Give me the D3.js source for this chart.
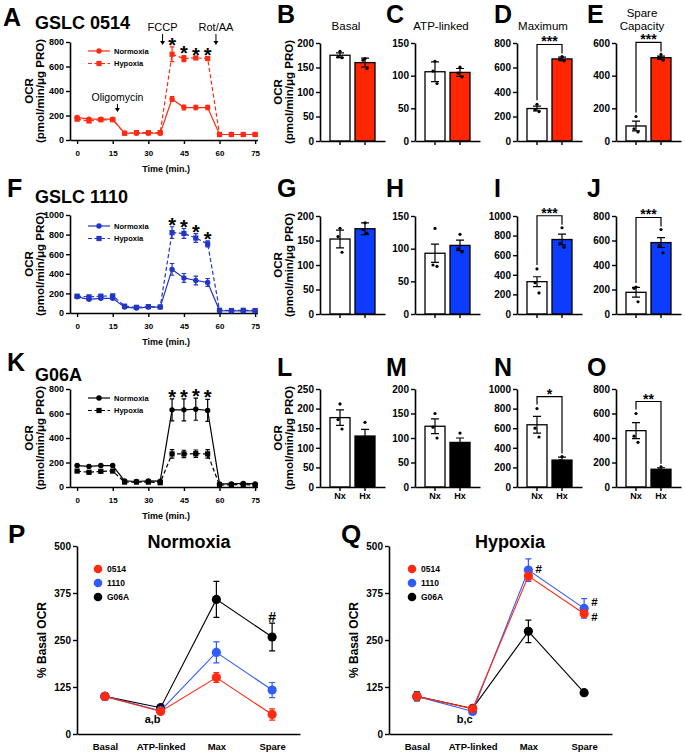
<!DOCTYPE html>
<html>
<head>
<meta charset="utf-8">
<script src="https://cdn.jsdelivr.net/npm/d3@7"></script>
<style>
  body { margin: 0; background: #fff; }
  svg { display: block; font-family: "Liberation Sans", Arial, Helvetica, sans-serif; }
</style>
</head>
<body>
<svg id="fig" width="685" height="753"></svg>
<script>
const FONT = '"Liberation Sans", Arial, Helvetica, sans-serif';

// ---- time courses (OCR, pmol/min/ug protein) ----
const times = [0, 5, 10, 15, 20, 25, 30, 35, 40, 45, 50, 55, 60, 65, 70, 75];
const timeTicks = [0, 15, 30, 45, 60, 75];
const injectionLabels = ["Oligomycin", "FCCP", "Rot/AA"];
const injectionTimes = [17, 36, 58.5];
const starIdx = [8, 9, 10, 11];

const ocr0514Nx = [185, 170, 170, 170, 55, 55, 55, 55, 335, 265, 265, 265, 45, 45, 45, 45];
const err0514Nx = [10, 8, 8, 8, 6, 6, 6, 6, 20, 20, 18, 18, 4, 4, 4, 4];
const ocr0514Hx = [170, 155, 165, 165, 55, 60, 60, 60, 700, 665, 670, 665, 45, 45, 45, 45];
const err0514Hx = [8, 12, 8, 8, 6, 10, 10, 10, 60, 25, 10, 10, 4, 4, 4, 4];

const ocr1110Nx = [165, 140, 150, 150, 60, 50, 60, 60, 445, 358, 332, 312, 25, 22, 22, 22];
const err1110Nx = [10, 12, 10, 10, 8, 8, 8, 8, 60, 45, 45, 40, 5, 5, 5, 5];
const ocr1110Hx = [172, 165, 172, 175, 70, 58, 65, 62, 820, 812, 765, 705, 28, 25, 28, 25];
const err1110Hx = [10, 10, 12, 12, 8, 8, 8, 8, 60, 50, 45, 30, 5, 5, 5, 5];

const ocrG06ANx = [175, 168, 175, 175, 50, 45, 50, 48, 630, 630, 635, 625, 25, 25, 30, 25];
const errG06ANx = [8, 8, 8, 8, 5, 5, 5, 5, 90, 90, 90, 90, 5, 5, 5, 5];
const ocrG06AHx = [130, 120, 128, 130, 40, 40, 40, 35, 270, 270, 272, 270, 15, 20, 20, 15];
const errG06AHx = [8, 8, 8, 8, 5, 5, 5, 5, 35, 30, 30, 35, 5, 5, 5, 5];

// ---- bar panels ----
const metrics = ["Basal", "ATP-linked", "Maximum", "Spare Capacity"];
const groups = ["Nx", "Hx"];

const bar0514Mean = [[175, 160], [106, 105], [265, 670], [92, 510]];
const bar0514Sem = [[5, 9], [15, 6], [20, 15], [30, 10]];
const bar0514Dots = [
  [[183, 172, 170], [168, 165, 148]],
  [[122, 107, 88], [113, 104, 98]],
  [[300, 255, 240], [690, 665, 655]],
  [[150, 75, 55], [530, 510, 495]],
];
const bar0514Sig = ["", "", "***", "***"];
const bar0514Max = [200, 150, 800, 600];

const bar1110Mean = [[153, 174], [93, 105], [330, 760], [177, 583]];
const bar1110Sem = [[18, 12], [14, 8], [50, 55], [40, 40]];
const bar1110Dots = [
  [[175, 158, 126], [186, 172, 165]],
  [[131, 75, 73], [122, 100, 95]],
  [[460, 320, 215], [880, 720, 680]],
  [[220, 210, 100], [690, 560, 500]],
];
const bar1110Sig = ["", "", "***", "***"];
const bar1110Max = [200, 150, 1000, 800];

const barG06AMean = [[177, 130], [124, 91], [635, 275], [460, 145]];
const barG06ASem = [[20, 17], [15, 9], [85, 30], [65, 12]];
const barG06ADots = [
  [[212, 172, 148], [165, 120, 105]],
  [[150, 122, 100], [110, 85, 80]],
  [[800, 600, 510], [310, 270, 245]],
  [[600, 415, 365], [165, 140, 130]],
];
const barG06ASig = ["", "", "*", "**"];
const barG06AMax = [250, 200, 1000, 800];

const barTickStep = [50, 50, 200, 200];

// ---- % basal OCR ----
const pctCategories = ["Basal", "ATP-linked", "Max", "Spare"];
const cellLines = ["0514", "1110", "G06A"];
const pctTicks = [0, 125, 250, 375, 500];

const nxPct0514 = [100, 60, 150, 52];
const nxErr0514 = [6, 5, 13, 15];
const nxPct1110 = [100, 62, 217, 117];
const nxErr1110 = [10, 5, 28, 20];
const nxPctG06A = [100, 70, 358, 258];
const nxErrG06A = [5, 5, 48, 37];

const hxPct0514 = [100, 67, 420, 320];
const hxErr0514 = [8, 5, 10, 8];
const hxPct1110 = [100, 60, 436, 334];
const hxErr1110 = [10, 5, 30, 26];
const hxPctG06A = [100, 68, 273, 110];
const hxErrG06A = [12, 5, 30, 5];

// ------------------------------------------------------------------
const svg = d3.select("#fig");
svg.append("rect").attr("width", 685).attr("height", 753).attr("fill", "#fff");

const intFmt = d3.format("d");

function styleAxis(g, size) {
  g.attr("font-family", FONT);
  g.select(".domain").attr("stroke-width", 1.6);
  g.selectAll(".tick line").attr("stroke-width", 1.4);
  g.selectAll(".tick text")
    .attr("font-size", size)
    .attr("font-weight", "bold")
    .attr("fill", "#000");
}

function boldText(g, x, y, size, str, anchor = "start") {
  return g
    .append("text")
    .attr("x", x)
    .attr("y", y)
    .attr("font-size", size)
    .attr("font-weight", "bold")
    .attr("text-anchor", anchor)
    .text(str);
}

function ocrLabel(g, x, cy) {
  const t = g
    .append("text")
    .attr("transform", `translate(${x},${cy}) rotate(-90)`)
    .attr("text-anchor", "middle")
    .attr("font-weight", "bold")
    .attr("font-size", 11.5);
  t.append("tspan").attr("x", 0).attr("y", 0).text("OCR");
  t.append("tspan").attr("x", 0).attr("y", 10.5).text("(pmol/min/μg PRO)");
}

function errorBar(g, x, yLo, yHi, cap, color) {
  g.append("path")
    .attr(
      "d",
      `M${x},${yLo}V${yHi}M${x - cap / 2},${yHi}H${x + cap / 2}M${x - cap / 2},${yLo}H${x + cap / 2}`
    )
    .attr("stroke", color)
    .attr("stroke-width", 1.2)
    .attr("fill", "none");
}

function marker(g, type, cx, cy, color) {
  if (type === "circle") {
    g.append("circle").attr("cx", cx).attr("cy", cy).attr("r", 2.7).attr("fill", color);
  } else {
    g.append("rect")
      .attr("x", cx - 2.6)
      .attr("y", cy - 2.6)
      .attr("width", 5.2)
      .attr("height", 5.2)
      .attr("fill", color);
  }
}

// ---- time course panels ----
const timeRows = [
  {
    letter: "A", letterY: 26, title: "GSLC 0514", titleY: 29,
    nx: ocr0514Nx, nxErr: err0514Nx, hx: ocr0514Hx, hxErr: err0514Hx,
    yMax: 800, y0: 140, color: "#ff2a12", legendY: 51, injections: true,
  },
  {
    letter: "F", letterY: 197, title: "GSLC 1110", titleY: 203,
    nx: ocr1110Nx, nxErr: err1110Nx, hx: ocr1110Hx, hxErr: err1110Hx,
    yMax: 1000, y0: 313, color: "#2235c4", legendY: 226, injections: false,
  },
  {
    letter: "K", letterY: 371, title: "G06A", titleY: 381,
    nx: ocrG06ANx, nxErr: errG06ANx, hx: ocrG06AHx, hxErr: errG06AHx,
    yMax: 800, y0: 487, color: "#000", legendY: 398, injections: false,
  },
];

function drawTime(o) {
  const g = svg.append("g");
  const x = d3.scaleLinear().domain([-3, 76]).range([70, 257.5]);
  const y = d3.scaleLinear().domain([0, o.yMax]).range([o.y0, o.y0 - 98]);

  boldText(g, o.letter === "A" ? 3 : 7, o.letterY, 25, o.letter);
  boldText(g, 35, o.titleY, 18, o.title);

  g.append("g")
    .attr("transform", `translate(0,${o.y0})`)
    .call(d3.axisBottom(x).tickValues(timeTicks).tickSize(4).tickPadding(6).tickSizeOuter(0))
    .call(styleAxis, 8);
  g.append("g")
    .attr("transform", "translate(70,0)")
    .call(
      d3.axisLeft(y)
        .tickValues(d3.range(0, o.yMax + 1, 200))
        .tickFormat(intFmt)
        .tickSize(4)
        .tickPadding(2)
        .tickSizeOuter(0)
    )
    .call(styleAxis, 9);

  boldText(g, x(37.5), o.y0 + 32, 9, "Time (min.)", "middle");
  ocrLabel(g, 33, o.y0 - 49);

  const series = [
    { key: "Hypoxia", v: o.hx, e: o.hxErr, dash: "4,2.5", mark: "square" },
    { key: "Normoxia", v: o.nx, e: o.nxErr, dash: null, mark: "circle" },
  ];
  const line = d3
    .line()
    .x((d) => x(d[0]))
    .y((d) => y(d[1]));

  series.forEach((s) => {
    g.append("path")
      .attr("d", line(times.map((t, i) => [t, s.v[i]])))
      .attr("fill", "none")
      .attr("stroke", o.color)
      .attr("stroke-width", 1.2)
      .attr("stroke-dasharray", s.dash);
    times.forEach((t, i) => {
      errorBar(g, x(t), y(s.v[i] - s.e[i]), y(s.v[i] + s.e[i]), 4.5, o.color);
      marker(g, s.mark, x(t), y(s.v[i]), o.color);
    });
  });

  // significance stars
  starIdx.forEach((i) => {
    const top = Math.max(o.nx[i] + o.nxErr[i], o.hx[i] + o.hxErr[i]);
    boldText(g, x(times[i]), y(top) - 6 + 11, 20, "*", "middle");
  });

  // legend
  [series[1], series[0]].forEach((s, k) => {
    const ly = o.legendY + k * 12.5;
    g.append("line")
      .attr("x1", 88).attr("x2", 110).attr("y1", ly).attr("y2", ly)
      .attr("stroke", o.color).attr("stroke-width", 1.2)
      .attr("stroke-dasharray", s.dash);
    marker(g, s.mark, 99, ly, o.color);
    boldText(g, 114, ly + 2.7, 7.5, s.key);
  });

  if (o.injections) {
    const labelY = [101, 31, 31];
    injectionTimes.forEach((t, i) => {
      const ax = x(t);
      const y1 = labelY[i] + 3;
      const y2 = labelY[i] + (i === 0 ? 11 : 14);
      g.append("text")
        .attr("x", ax)
        .attr("y", labelY[i])
        .attr("text-anchor", "middle")
        .attr("font-size", i === 0 ? 10.5 : 11)
        .text(injectionLabels[i]);
      g.append("line")
        .attr("x1", ax).attr("x2", ax).attr("y1", y1).attr("y2", y2 - 3)
        .attr("stroke", "#000").attr("stroke-width", 1);
      g.append("path")
        .attr("d", `M${ax - 2.5},${y2 - 4}L${ax + 2.5},${y2 - 4}L${ax},${y2}Z`)
        .attr("fill", "#000");
    });
  }
}

timeRows.forEach(drawTime);

// ---- bar panels ----
const barRows = [
  { y0: 141, letters: ["B", "C", "D", "E"], letterY: 23, fill: "#ff2600",
    mean: bar0514Mean, sem: bar0514Sem, dots: bar0514Dots, sig: bar0514Sig, max: bar0514Max,
    titles: true, labels: false },
  { y0: 314, letters: ["G", "H", "I", "J"], letterY: 197, fill: "#0b3cff",
    mean: bar1110Mean, sem: bar1110Sem, dots: bar1110Dots, sig: bar1110Sig, max: bar1110Max,
    titles: false, labels: false },
  { y0: 487, letters: ["L", "M", "N", "O"], letterY: 376, fill: "#000",
    mean: barG06AMean, sem: barG06ASem, dots: barG06ADots, sig: barG06ASig, max: barG06AMax,
    titles: false, labels: true },
];
const colAxisX = [320, 415, 517, 616];
const colLetterX = [277, 386, 494, 587];
const dotOffsets = [0, -2, 2];

function drawBar(row, c) {
  const g = svg.append("g");
  const axisX = colAxisX[c];
  const x = d3
    .scaleBand()
    .domain(groups)
    .range([axisX, axisX + 65])
    .paddingInner(0.2)
    .paddingOuter(0.4);
  const y = d3.scaleLinear().domain([0, row.max[c]]).range([row.y0, row.y0 - 98]);
  const bw = x.bandwidth();
  const data = groups.map((k, i) => ({
    key: k,
    mean: row.mean[c][i],
    sem: row.sem[c][i],
    dots: row.dots[c][i],
    fill: i === 0 ? "#fff" : row.fill,
  }));

  boldText(g, colLetterX[c], row.letterY, 25, row.letters[c]);

  g.selectAll("rect.bar")
    .data(data)
    .join("rect")
    .attr("class", "bar")
    .attr("x", (d) => x(d.key))
    .attr("width", bw)
    .attr("y", (d) => y(d.mean))
    .attr("height", (d) => y(0) - y(d.mean))
    .attr("fill", (d) => d.fill)
    .attr("stroke", "#000")
    .attr("stroke-width", 1.3);

  data.forEach((d) => {
    const cx = x(d.key) + bw / 2;
    errorBar(g, cx, y(d.mean - d.sem), y(d.mean + d.sem), 8, "#000");
    d.dots.forEach((v, j) => {
      g.append("circle")
        .attr("cx", cx + dotOffsets[j])
        .attr("cy", y(v))
        .attr("r", 1.6)
        .attr("fill", "#000");
    });
  });

  g.append("g")
    .attr("transform", `translate(0,${row.y0})`)
    .call(
      d3.axisBottom(x)
        .tickSize(4)
        .tickPadding(2)
        .tickSizeOuter(0)
        .tickFormat(row.labels ? (d) => d : () => "")
    )
    .call(styleAxis, 9);
  g.append("g")
    .attr("transform", `translate(${axisX},0)`)
    .call(
      d3.axisLeft(y)
        .tickValues(d3.range(0, row.max[c] + 1, barTickStep[c]))
        .tickFormat(intFmt)
        .tickSize(4)
        .tickPadding(2)
        .tickSizeOuter(0)
    )
    .call(styleAxis, 10);

  if (c === 0) ocrLabel(g, 282, row.y0 - 49);

  if (row.titles) {
    const words = metrics[c] === "Spare Capacity" ? ["Spare", "Capacity"] : [metrics[c]];
    words.forEach((w, k) => {
      g.append("text")
        .attr("x", axisX + 26)
        .attr("y", 30 - (words.length - 1 - k) * 13)
        .attr("text-anchor", "middle")
        .attr("font-size", 11.5)
        .text(w);
    });
  }

  if (row.sig[c]) {
    const top0 = d3.max([data[0].mean + data[0].sem, ...data[0].dots]);
    const top1 = d3.max([data[1].mean + data[1].sem, ...data[1].dots]);
    const by = y(Math.max(top0, top1)) - 12;
    const xa = x("Nx") + bw / 2;
    const xb = x("Hx") + bw / 2;
    g.append("path")
      .attr("d", `M${xa},${y(top0) - 4}V${by}H${xb}V${y(top1) - 3}`)
      .attr("fill", "none")
      .attr("stroke", "#000")
      .attr("stroke-width", 1.2);
    boldText(g, (xa + xb) / 2, by + 2, 14, row.sig[c], "middle");
  }
}

barRows.forEach((row) => metrics.forEach((m, c) => drawBar(row, c)));

// ---- % basal OCR panels ----
const pctColors = { "0514": "#ff2a12", "1110": "#2f5bff", G06A: "#000" };
const pctPanels = [
  {
    letter: "P", letterX: 8, title: "Normoxia", titleX: 189, axisX: 77, legendX: 98,
    vals: { "0514": nxPct0514, "1110": nxPct1110, G06A: nxPctG06A },
    errs: { "0514": nxErr0514, "1110": nxErr1110, G06A: nxErrG06A },
    note: "a,b",
    hashes: [{ line: "G06A", cat: "Spare", pos: "above", dy: 0 }],
  },
  {
    letter: "Q", letterX: 341, title: "Hypoxia", titleX: 510, axisX: 389, legendX: 412,
    vals: { "0514": hxPct0514, "1110": hxPct1110, G06A: hxPctG06A },
    errs: { "0514": hxErr0514, "1110": hxErr1110, G06A: hxErrG06A },
    note: "b,c",
    hashes: [
      { line: "1110", cat: "Max", pos: "right", dy: -1 },
      { line: "1110", cat: "Spare", pos: "right", dy: -6 },
      { line: "0514", cat: "Spare", pos: "right", dy: 3 },
    ],
  },
];

function drawPct(o) {
  const g = svg.append("g");
  const x = d3.scalePoint().domain(pctCategories).range([o.axisX, o.axisX + 223]).padding(0.5);
  const y = d3.scaleLinear().domain([0, 500]).range([734, 546]);

  boldText(g, o.letterX, 543, 26, o.letter);
  boldText(g, o.titleX, 548, 18, o.title, "middle");

  g.append("g")
    .attr("transform", "translate(0,734)")
    .call(d3.axisBottom(x).tickSize(0).tickPadding(9).tickSizeOuter(0))
    .call(styleAxis, 9.5);
  g.append("g")
    .attr("transform", `translate(${o.axisX},0)`)
    .call(d3.axisLeft(y).tickValues(pctTicks).tickSize(4).tickPadding(2).tickSizeOuter(0))
    .call(styleAxis, 10);

  g.append("text")
    .attr("transform", `translate(${o.axisX - 31},640) rotate(-90)`)
    .attr("text-anchor", "middle")
    .attr("font-weight", "bold")
    .attr("font-size", 12)
    .text("% Basal OCR");

  const line = d3
    .line()
    .x((d) => x(d[0]))
    .y((d) => y(d[1]));

  ["G06A", "1110", "0514"].forEach((k) => {
    const col = pctColors[k];
    g.append("path")
      .attr("d", line(pctCategories.map((c, i) => [c, o.vals[k][i]])))
      .attr("fill", "none")
      .attr("stroke", col)
      .attr("stroke-width", 1.1);
    pctCategories.forEach((c, i) => {
      const v = o.vals[k][i];
      const e = o.errs[k][i];
      errorBar(g, x(c), y(v - e), y(v + e), 6, col);
      g.append("circle").attr("cx", x(c)).attr("cy", y(v)).attr("r", 4.6).attr("fill", col);
    });
  });

  cellLines.forEach((k, i) => {
    const ly = 569 + i * 14;
    g.append("circle").attr("cx", o.legendX).attr("cy", ly).attr("r", 4.3).attr("fill", pctColors[k]);
    boldText(g, o.legendX + 9, ly + 3, 8.5, k);
  });

  boldText(g, x("ATP-linked") - 8, 723, 11, o.note, "middle");

  o.hashes.forEach((h) => {
    const i = pctCategories.indexOf(h.cat);
    const v = o.vals[h.line][i];
    const e = o.errs[h.line][i];
    if (h.pos === "above") {
      boldText(g, x(h.cat), y(v + e) - 6 + 5, 14, "#", "middle");
    } else {
      boldText(g, x(h.cat) + 7, y(v) + h.dy + 4, 11.5, "#");
    }
  });
}

pctPanels.forEach(drawPct);
</script>
</body>
</html>
